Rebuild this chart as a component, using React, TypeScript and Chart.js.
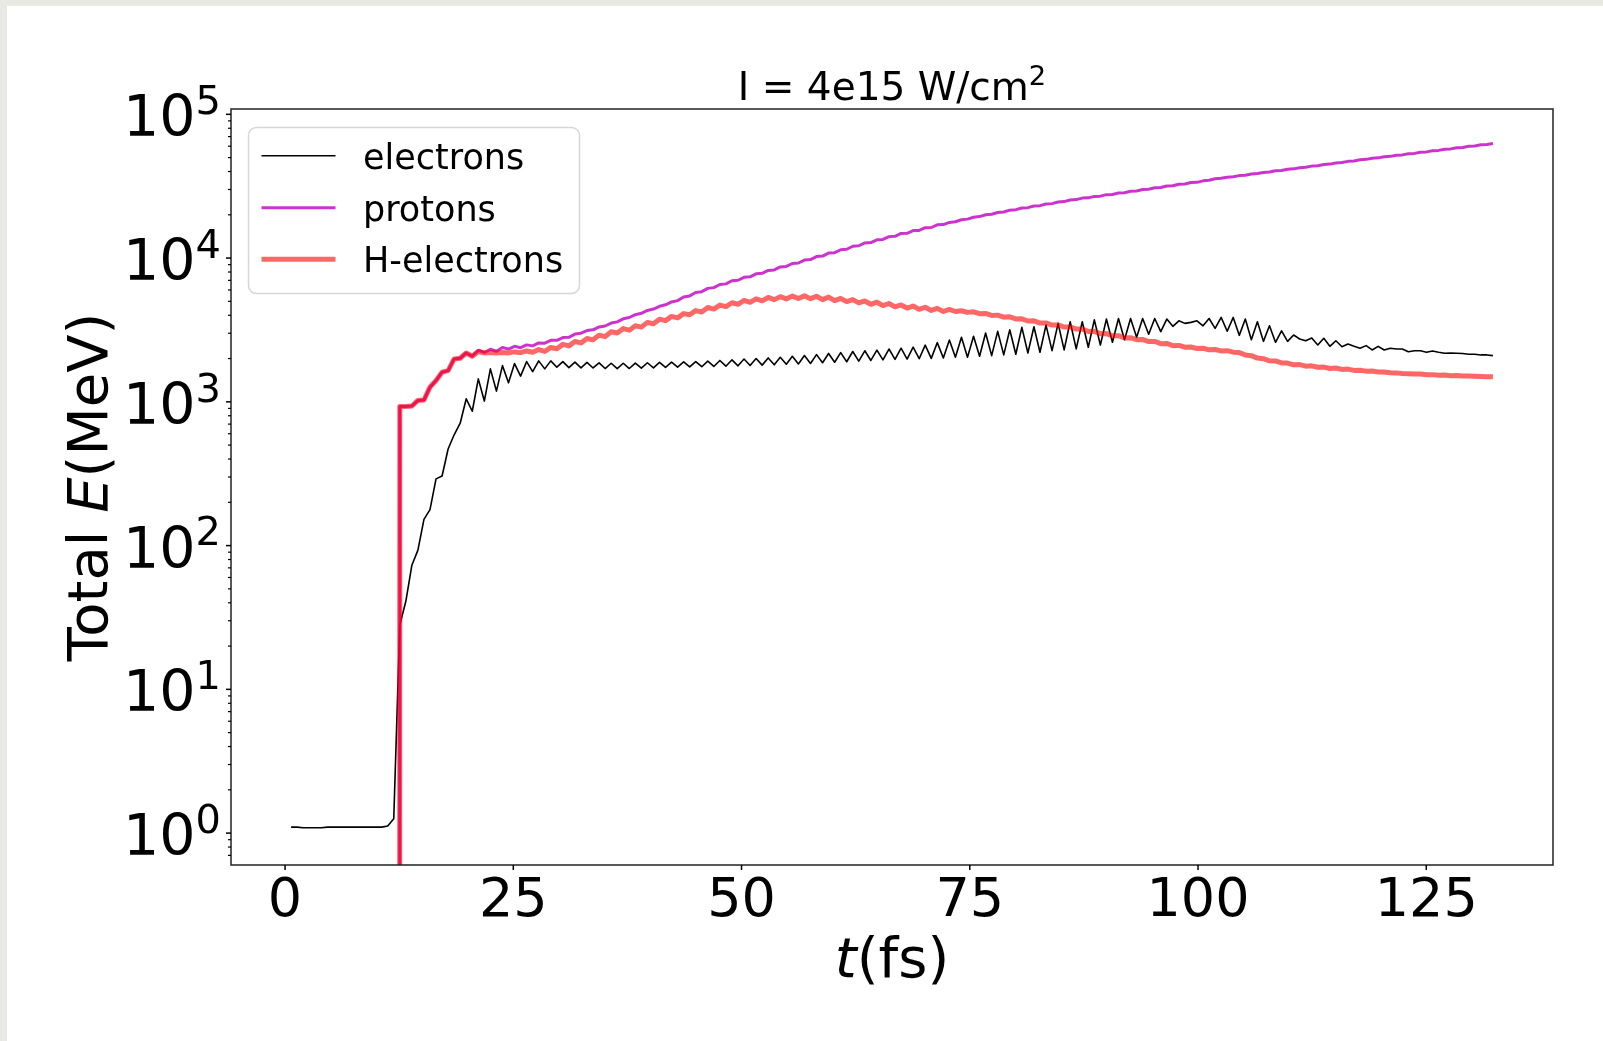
import React, { useEffect, useRef } from "react";
import { Chart, registerables } from "chart.js";

Chart.register(...registerables);

// ---------------- data ----------------
// uniform simulation output grid (fs), first sample at one step
const T_STEP = 0.6615;
const N_SAMPLES = 200;
const times: number[] = Array.from({ length: N_SAMPLES }, (_, i) => +(T_STEP * (i + 1)).toFixed(4));

const electrons: number[] = [
  1.10, 1.10, 1.09, 1.09, 1.09, 1.09, 1.10, 1.10, 1.10, 1.10,
  1.10, 1.10, 1.10, 1.10, 1.10, 1.10, 1.12, 1.26, 28, 41,
  73, 93, 152, 178, 291, 305, 470, 590, 710, 1050,
  860, 1445, 1013, 1695, 1188, 1786, 1356, 1845, 1510, 1905,
  1624, 1927, 1695, 1927, 1742, 1905, 1730, 1890, 1725, 1880,
  1720, 1865, 1705, 1855, 1700, 1855, 1705, 1860, 1715, 1870,
  1725, 1880, 1735, 1890, 1742, 1895, 1748, 1905, 1755, 1920,
  1762, 1940, 1770, 1960, 1780, 1985, 1790, 2000, 1800, 2020,
  1810, 2040, 1825, 2075, 1835, 2100, 1850, 2130, 1870, 2170,
  1885, 2200, 1900, 2240, 1920, 2265, 1940, 2290, 1960, 2330,
  1975, 2360, 1985, 2400, 1995, 2480, 2005, 2580, 2020, 2690,
  2043, 2810, 2045, 2855, 2076, 3010, 2095, 3093, 2120, 3172,
  2143, 3296, 2188, 3330, 2212, 3420, 2270, 3514, 2296, 3605,
  2333, 3605, 2397, 3720, 2485, 3765, 2595, 3800, 2705, 3800,
  2810, 3800, 2950, 3800, 3075, 3765, 3350, 3660, 3514, 3570,
  3660, 3380, 3800, 3245, 3865, 3100, 3865, 2900, 3765, 2705,
  3605, 2635, 3380, 2595, 3120, 2635, 2915, 2735, 2660, 2780,
  2485, 2765, 2432, 2660, 2417, 2525, 2432, 2360, 2460, 2296,
  2432, 2296, 2360, 2333, 2333, 2233, 2268, 2268, 2215, 2259,
  2215, 2177, 2185, 2177, 2170, 2143, 2143, 2120, 2120, 2095,
];

const protons: number[] = [
  0, 0, 0, 0, 0, 0, 0, 0, 0, 0,
  0, 0, 0, 0, 0, 0, 0, 0,
  929, 929, 935, 1023, 1030, 1265, 1406, 1608, 1649, 1988, 2010, 2188, 2075,
  2285, 2205, 2323, 2250, 2390, 2330, 2435, 2380, 2490, 2450,
  2570, 2560, 2680, 2680, 2800, 2810, 2960, 3000, 3130, 3170,
  3320, 3370, 3530, 3600, 3780, 3860, 4040, 4130, 4320, 4420,
  4620, 4730, 4950, 5060, 5360, 5455, 5760, 5840, 6155, 6230,
  6550, 6615, 6955, 7010, 7350, 7405, 7770, 7830, 8210, 8270,
  8675, 8745, 9170, 9240, 9690, 9765, 10240, 10320, 10830, 10910,
  11430, 11520, 12090, 12180, 12750, 12810, 13400, 13470, 14100, 14180,
  14840, 14880, 15530, 15580, 16270, 16320, 17040, 17090, 17710, 17900,
  18460, 18660, 19240, 19440, 20010, 20180, 20750, 20930, 21540, 21720,
  22290, 22430, 23020, 23160, 23780, 23920, 24550, 24710, 25360, 25510,
  26130, 26230, 26860, 26960, 27620, 27720, 28390, 28500, 29180, 29290,
  30000, 30120, 30840, 30960, 31700, 31830, 32590, 32730, 33510, 33640,
  34450, 34820, 35620, 35860, 36540, 36790, 37470, 37730, 38430, 38700,
  39440, 39690, 40440, 40710, 41470, 41750, 42540, 42820, 43630, 43930,
  44750, 45050, 45900, 46210, 47080, 47390, 48280, 48600, 49490, 49780,
  50680, 50990, 51920, 52220, 53170, 53490, 54460, 54790, 55780, 56110,
  57130, 57480, 58520, 58860, 59930, 60290, 61380, 61750, 62680,
];

const hElectrons: number[] = [
  0, 0, 0, 0, 0, 0, 0, 0, 0, 0,
  0, 0, 0, 0, 0, 0, 0, 0,
  929, 929, 935, 1023, 1030, 1265, 1406, 1608, 1649, 1988, 2010, 2188, 2075,
  2240, 2190, 2200, 2185, 2205, 2190, 2225, 2200, 2260, 2215,
  2310, 2240, 2390, 2340, 2510, 2450, 2630, 2570, 2760, 2700,
  2910, 2840, 3070, 3010, 3230, 3150, 3380, 3310, 3570, 3490,
  3760, 3670, 3930, 3840, 4110, 4030, 4310, 4220, 4530, 4420,
  4710, 4600, 4890, 4770, 5070, 4920, 5210, 5040, 5320, 5140,
  5390, 5200, 5440, 5230, 5460, 5220, 5430, 5140, 5350, 5060,
  5240, 4980, 5140, 4880, 5030, 4770, 4930, 4670, 4830, 4580,
  4720, 4490, 4640, 4400, 4550, 4320, 4470, 4250, 4390, 4250,
  4300, 4190, 4230, 4100, 4120, 3990, 4010, 3880, 3900, 3770,
  3780, 3650, 3660, 3530, 3540, 3420, 3430, 3310, 3320, 3210,
  3205, 3090, 3095, 2980, 2985, 2880, 2885, 2785, 2795, 2705,
  2715, 2625, 2630, 2540, 2550, 2460, 2470, 2400, 2405, 2350,
  2360, 2300, 2310, 2260, 2270, 2215, 2200, 2120, 2095, 2015,
  1995, 1930, 1925, 1865, 1860, 1810, 1815, 1770, 1780, 1740,
  1745, 1705, 1720, 1680, 1690, 1655, 1660, 1635, 1638, 1615,
  1612, 1592, 1590, 1575, 1570, 1560, 1561, 1545, 1546, 1532,
  1535, 1521, 1524, 1514, 1513, 1507, 1500, 1496, 1493,
];

const seriesLabels = ["electrons", "protons", "H-electrons"];
const xTickValues = [0, 25, 50, 75, 100, 125];
const yDecadeExponents = [0, 1, 2, 3, 4, 5];
const titleMain = "I = 4e15 W/cm";
const titleSup = "2";

// ---------------- styles ----------------
const W = 1603;
const H = 1041;
const FONT = '"DejaVu Sans", "Liberation Sans", sans-serif';
const PAGE_GREY = "#e9e9e4";
const COLORS = ["#000000", "rgba(191,0,191,0.8)", "rgba(255,0,0,0.6)"];
const WIDTHS = [1.6, 3, 5];
const X_MIN = -5.92;
const X_MAX = 138.88;
const Y_MIN = Math.pow(10, -0.197);
const Y_MAX = Math.pow(10, 5.037);
const YTICK_FONT = 57;
const XTICK_FONT = 54;
const LABEL_FONT = 56;
const TITLE_FONT = 39;
const LEGEND_FONT = 35;

// matplotlib's log "clip": non-positive values go to a tiny positive number
const clipLog = (v: number) => (v > 0 ? v : 1e-300);

function toPoints(values: number[]) {
  return values.map((v, i) => ({ x: times[i], y: clipLog(v) }));
}

function drawSupText(
  ctx: CanvasRenderingContext2D,
  base: string,
  sup: string,
  size: number,
  x: number,
  baseline: number,
  align: "right" | "center",
) {
  const supSize = size * 0.7;
  ctx.font = `${size}px ${FONT}`;
  const wb = ctx.measureText(base).width;
  ctx.font = `${supSize}px ${FONT}`;
  const ws = ctx.measureText(sup).width;
  const total = wb + ws;
  const start = align === "right" ? x - total : x - total / 2;
  ctx.textAlign = "left";
  ctx.textBaseline = "alphabetic";
  ctx.font = `${size}px ${FONT}`;
  ctx.fillText(base, start, baseline);
  ctx.font = `${supSize}px ${FONT}`;
  ctx.fillText(sup, start + wb, baseline - size * 0.39);
}

const decorPlugin = {
  id: "decor",
  beforeDraw(chart: any) {
    const { ctx, width, height } = chart;
    ctx.save();
    ctx.fillStyle = PAGE_GREY;
    ctx.fillRect(0, 0, width, height);
    ctx.fillStyle = "#ffffff";
    ctx.fillRect(7, 6, width - 7, height - 6);
    ctx.restore();
  },
  afterDatasetsDraw(chart: any) {
    const { ctx, chartArea: a, scales } = chart;
    const xs = scales.x;
    const ys = scales.y;
    ctx.save();

    // frame
    ctx.strokeStyle = "#222222";
    ctx.lineWidth = 1.5;
    ctx.strokeRect(a.left, a.top, a.right - a.left, a.bottom - a.top);

    // y ticks (major + minor)
    ctx.strokeStyle = "#000000";
    for (let d = -1; d <= 5; d++) {
      for (let m = 1; m <= 9; m++) {
        const v = m * Math.pow(10, d);
        if (v < Y_MIN || v > Y_MAX) continue;
        const y = ys.getPixelForValue(v);
        const len = m === 1 ? 5 : 3;
        ctx.lineWidth = m === 1 ? 1.5 : 1.2;
        ctx.beginPath();
        ctx.moveTo(a.left - len, y);
        ctx.lineTo(a.left, y);
        ctx.stroke();
      }
    }
    // x ticks
    ctx.lineWidth = 1.5;
    xTickValues.forEach((t) => {
      const x = xs.getPixelForValue(t);
      ctx.beginPath();
      ctx.moveTo(x, a.bottom);
      ctx.lineTo(x, a.bottom + 5);
      ctx.stroke();
    });

    ctx.fillStyle = "#000000";
    // y tick labels 10^n
    yDecadeExponents.forEach((n) => {
      const y = ys.getPixelForValue(Math.pow(10, n));
      drawSupText(ctx, "10", String(n), YTICK_FONT, a.left - 10, y + 22, "right");
    });
    // x tick labels
    ctx.font = `${XTICK_FONT}px ${FONT}`;
    ctx.textAlign = "center";
    ctx.textBaseline = "alphabetic";
    xTickValues.forEach((t) => {
      ctx.fillText(String(t), xs.getPixelForValue(t), a.bottom + 51);
    });

    // x axis label: t(fs) with italic t
    const cx = (a.left + a.right) / 2;
    ctx.font = `italic ${LABEL_FONT}px ${FONT}`;
    const wt = ctx.measureText("t").width;
    ctx.font = `${LABEL_FONT}px ${FONT}`;
    const wr = ctx.measureText("(fs)").width;
    let sx = cx - (wt + wr) / 2;
    ctx.textAlign = "left";
    ctx.font = `italic ${LABEL_FONT}px ${FONT}`;
    ctx.fillText("t", sx, 977);
    ctx.font = `${LABEL_FONT}px ${FONT}`;
    ctx.fillText("(fs)", sx + wt, 977);

    // y axis label: Total E(MeV), rotated
    ctx.save();
    ctx.translate(107, (a.top + a.bottom) / 2);
    ctx.rotate(-Math.PI / 2);
    ctx.font = `${LABEL_FONT}px ${FONT}`;
    const w1 = ctx.measureText("Total ").width;
    const w3 = ctx.measureText("(MeV)").width;
    ctx.font = `italic ${LABEL_FONT}px ${FONT}`;
    const w2 = ctx.measureText("E").width;
    sx = -(w1 + w2 + w3) / 2;
    ctx.font = `${LABEL_FONT}px ${FONT}`;
    ctx.fillText("Total ", sx, 0);
    ctx.font = `italic ${LABEL_FONT}px ${FONT}`;
    ctx.fillText("E", sx + w1, 0);
    ctx.font = `${LABEL_FONT}px ${FONT}`;
    ctx.fillText("(MeV)", sx + w1 + w2, 0);
    ctx.restore();

    // title
    drawSupText(ctx, titleMain, titleSup, TITLE_FONT, cx, 100, "center");

    // legend
    const lx = 248.5, ly = 127.5, lw = 331, lh = 166, r = 8;
    ctx.beginPath();
    ctx.moveTo(lx + r, ly);
    ctx.lineTo(lx + lw - r, ly);
    ctx.arcTo(lx + lw, ly, lx + lw, ly + r, r);
    ctx.lineTo(lx + lw, ly + lh - r);
    ctx.arcTo(lx + lw, ly + lh, lx + lw - r, ly + lh, r);
    ctx.lineTo(lx + r, ly + lh);
    ctx.arcTo(lx, ly + lh, lx, ly + lh - r, r);
    ctx.lineTo(lx, ly + r);
    ctx.arcTo(lx, ly, lx + r, ly, r);
    ctx.closePath();
    ctx.fillStyle = "rgba(255,255,255,0.8)";
    ctx.fill();
    ctx.strokeStyle = "#d6d6d6";
    ctx.lineWidth = 1.5;
    ctx.stroke();

    const rowY = [155.7, 207.8, 259.3];
    seriesLabels.forEach((label, i) => {
      ctx.strokeStyle = COLORS[i];
      ctx.lineWidth = WIDTHS[i];
      ctx.beginPath();
      ctx.moveTo(261.5, rowY[i]);
      ctx.lineTo(335.5, rowY[i]);
      ctx.stroke();
      ctx.fillStyle = "#000000";
      ctx.font = `${LEGEND_FONT}px ${FONT}`;
      ctx.textAlign = "left";
      ctx.textBaseline = "alphabetic";
      ctx.fillText(label, 363, rowY[i] + 13);
    });

    ctx.restore();
  },
};

export default function App() {
  const ref = useRef<HTMLCanvasElement | null>(null);

  useEffect(() => {
    document.body.style.margin = "0";
    document.body.style.overflow = "hidden";
    const canvas = ref.current;
    if (!canvas) return;
    const seriesValues = [electrons, protons, hElectrons];
    const chart = new Chart(canvas, {
      type: "line",
      data: {
        datasets: seriesValues.map((vals, i) => ({
          label: seriesLabels[i],
          data: toPoints(vals),
          borderColor: COLORS[i],
          backgroundColor: COLORS[i],
          borderWidth: WIDTHS[i],
          pointRadius: 0,
          tension: 0,
          fill: false,
          borderJoinStyle: "round" as const,
          borderCapStyle: "butt" as const,
          clip: 0,
          order: 2 - i,
        })),
      },
      options: {
        responsive: false,
        animation: false,
        events: [],
        devicePixelRatio: 1,
        layout: { padding: { left: 231, top: 109, right: 50, bottom: 176 } },
        scales: {
          x: { type: "linear", min: X_MIN, max: X_MAX, display: false },
          y: { type: "logarithmic", min: Y_MIN, max: Y_MAX, display: false },
        },
        plugins: {
          legend: { display: false },
          tooltip: { enabled: false },
          title: { display: false },
        },
      },
      plugins: [decorPlugin],
    } as any);
    return () => chart.destroy();
  }, []);

  return <canvas ref={ref} width={W} height={H} style={{ display: "block" }} />;
}
